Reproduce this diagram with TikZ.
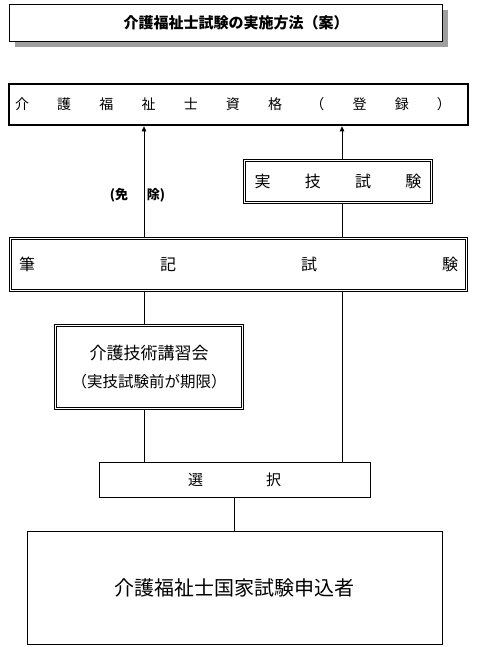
\documentclass[tikz,border=0pt]{standalone}
\usepackage{fontspec}
\setmainfont{Noto Sans CJK JP}
\usetikzlibrary{arrows.meta,shadows}

\tikzset{
  caja/.style={draw, line width=0.8pt, inner sep=0pt},
  cajadoble/.style={draw, line width=0.8pt, inner sep=0pt},
  cajagruesa/.style={draw, line width=2.6pt, inner sep=0pt},
  flecha/.style={line width=0.8pt, -{Triangle[length=5pt,width=4.5pt]}},
  linea/.style={line width=0.8pt}
}

\begin{document}
\begin{tikzpicture}[x=1pt,y=-1pt] % unidades en pixeles, eje y hacia abajo

        \useasboundingbox (0,0) rectangle (477,647);

        % Titulo con sombra
        \node[caja, fill=white, minimum width=433pt, minimum height=37pt,
              drop shadow={shadow xshift=6pt, shadow yshift=-6pt, fill=gray!75, opacity=1}]
              (titulo) at (225.5,22.5) {};
        \node[font=\bfseries\fontsize{15}{18}\selectfont] (titulotxt) at (236,23) {介護福祉士試験の実施方法（案）};

        % Columnas de las lineas verticales
        \coordinate (colIzq) at (144,0);
        \coordinate (colDer) at (342,0);

        % Cajas
        \node[cajagruesa, minimum width=459pt, minimum height=41pt] (calif) at (238.5,104.5) {};
        \node[font=\fontsize{14}{17}\selectfont] (califtxt) at (233,104)
              {\makebox[436pt]{介\hfill 護\hfill 福\hfill 祉\hfill 士\hfill 資\hfill 格\hfill （\hfill 登\hfill 録\hfill ）}};

        \node[cajadoble, minimum width=189pt, minimum height=44pt, font=\fontsize{16}{19}\selectfont]
              (practico) at (338,181.5) {\makebox[167pt]{実\hfill 技\hfill 試\hfill 験}};

        \node[cajadoble, minimum width=458pt, minimum height=54pt, font=\fontsize{16}{19}\selectfont]
              (escrito) at (238.5,264.5) {\makebox[439pt]{筆\hfill 記\hfill 試\hfill 験}};

        \node[cajadoble, minimum width=189pt, minimum height=85pt, align=center]
              (curso) at (149,367) {\fontsize{17}{20}\selectfont 介護技術講習会\\[13pt] \fontsize{15.5}{18}\selectfont （実技試験前が期限）};

        % Linea interior de las cajas dobles
        \foreach \n in {practico,escrito,curso}
          \draw[linea] ([shift={(2.6pt,-2.6pt)}]\n.north west) rectangle ([shift={(-2.6pt,2.6pt)}]\n.south east);

        \node[caja, minimum width=271pt, minimum height=35pt, font=\fontsize{15}{18}\selectfont]
              (seleccion) at (234.5,479.5) {\makebox[93pt]{選\hfill 択}};

        \node[caja, minimum width=415pt, minimum height=113pt, font=\fontsize{20}{24}\selectfont]
              (aspirantes) at (234.5,587.5) {介護福祉士国家試験申込者};

        % Conexiones
        \draw[flecha] (escrito.north -| colIzq) -- (calif.south -| colIzq);
        \draw[flecha] (practico.north -| colDer) -- (calif.south -| colDer);
        \draw[linea] (escrito.north -| colDer) -- (practico.south -| colDer);
        \draw[linea] (escrito.south -| colIzq) -- (curso.north -| colIzq);
        \draw[linea] (curso.south -| colIzq) -- (seleccion.north -| colIzq);
        \draw[linea] (escrito.south -| colDer) -- (seleccion.north -| colDer);
        \draw[linea] (seleccion.south) -- (aspirantes.north);

        % Etiqueta de la exencion
        \node[font=\bfseries\fontsize{13}{16}\selectfont] (exencion) at (137.5,195) {(免\hspace{19pt}除)};

\end{tikzpicture}
\end{document}
